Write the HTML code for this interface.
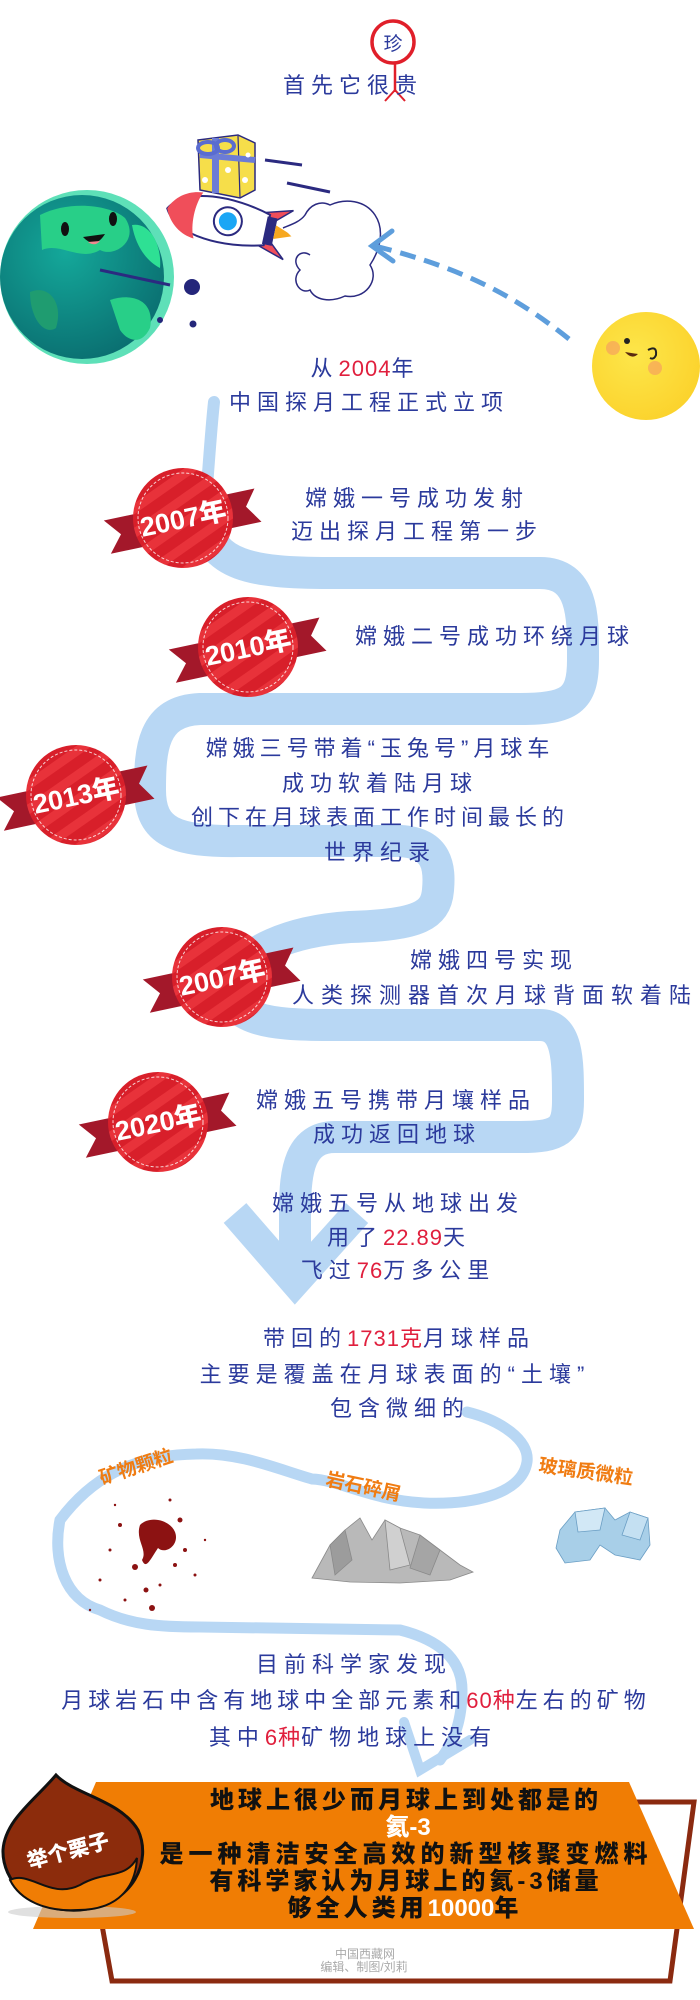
<!DOCTYPE html>
<html><head><meta charset="utf-8"><style>
html,body{margin:0;padding:0;background:#fff;}
svg{display:block;}
.t{font-family:"Liberation Sans","Noto Sans CJK SC",sans-serif;fill:#2b3a9c;font-size:22px;letter-spacing:6px;text-anchor:middle;}
.r{fill:#e01f3d;letter-spacing:1px;}
.o{font-family:"Liberation Sans","Noto Sans CJK SC",sans-serif;fill:#f07c12;font-size:19px;font-weight:bold;text-anchor:middle;}
.b{font-family:"Liberation Sans","Noto Sans CJK SC",sans-serif;fill:#111;font-size:24px;font-weight:900;text-anchor:middle;letter-spacing:4px;}
.w{fill:#fff;letter-spacing:0;}
.yr{font-family:"Liberation Sans","Noto Sans CJK SC",sans-serif;fill:#fff;font-size:27px;font-weight:900;text-anchor:middle;}
</style></head><body>
<svg width="700" height="2000" viewBox="0 0 700 2000" xmlns="http://www.w3.org/2000/svg">
<defs>
<pattern id="st" width="20" height="20" patternUnits="userSpaceOnUse" patternTransform="rotate(-35)">
<rect width="20" height="20" fill="#d81f2a"/><rect width="20" height="9" fill="#e8323a"/></pattern>
<g id="badge">
<polygon points="-78,-14 76,-14 64,2 76,20 -78,20 -64,3" fill="#a3182a" transform="rotate(-12)"/>
<circle r="50" fill="url(#st)"/>
<circle r="45" fill="none" stroke="#fff" stroke-width="1" stroke-dasharray="3 2" opacity="0.8"/>
</g>
<radialGradient id="eg" cx="0.4" cy="0.35" r="0.7"><stop offset="0" stop-color="#14a89a"/><stop offset="1" stop-color="#0a6e70"/></radialGradient>
<radialGradient id="mg" cx="0.4" cy="0.4" r="0.7"><stop offset="0" stop-color="#fde64a"/><stop offset="1" stop-color="#fbd12a"/></radialGradient>
</defs>

<circle cx="393" cy="42" r="21" fill="none" stroke="#e01f2a" stroke-width="3.5"/>
<text x="393" y="50" class="t" style="font-size:19px;letter-spacing:0">珍</text>
<line x1="395" y1="63" x2="395" y2="92" stroke="#e01f2a" stroke-width="2.5"/>
<line x1="395" y1="90" x2="385" y2="101" stroke="#e01f2a" stroke-width="2"/>
<line x1="395" y1="90" x2="405" y2="101" stroke="#e01f2a" stroke-width="2"/>
<text x="353" y="93" class="t">首先它很贵</text>

<circle cx="87" cy="277" r="87" fill="#5ee0b8"/>
<circle cx="82" cy="277" r="82" fill="url(#eg)"/>
<path d="M40,215 C70,200 110,205 125,218 C140,240 115,258 100,250 C80,262 60,242 42,250 Z" fill="#28cf88"/>
<path d="M110,300 C135,292 155,302 150,328 C142,345 128,342 120,330 Z" fill="#28cf88"/>
<path d="M132,225 C150,222 162,245 160,268 C148,262 136,248 132,225 Z" fill="#2ee094"/>
<path d="M30,292 C48,284 64,302 56,328 C44,336 30,318 30,292 Z" fill="#1f9c70"/>
<ellipse cx="65" cy="229" rx="4" ry="7" fill="#111"/>
<ellipse cx="113" cy="219" rx="4" ry="7" fill="#111"/>
<path d="M83,237 Q95,250 105,234 Z" fill="#111"/>
<path d="M88,242 Q95,247 100,241 Z" fill="#f08a90"/>
<line x1="100" y1="270" x2="170" y2="285" stroke="#2b2a80" stroke-width="3"/>
<circle cx="192" cy="287" r="8" fill="#24267a"/>
<circle cx="193" cy="324" r="3.5" fill="#24267a"/>
<circle cx="160" cy="320" r="3" fill="#24267a"/>

<line x1="265" y1="160" x2="302" y2="165" stroke="#2b2a80" stroke-width="3"/>
<line x1="287" y1="183" x2="330" y2="192" stroke="#2b2a80" stroke-width="3"/>
<g transform="rotate(12 222 220)">
<path d="M258,205 L290,196 L270,214 Z" fill="#f04e5a" stroke="#2b2a80" stroke-width="1.5"/>
<path d="M258,236 L290,246 L270,228 Z" fill="#f04e5a" stroke="#2b2a80" stroke-width="1.5"/>
<path d="M166,220 C180,195 230,194 268,205 L268,236 C230,247 180,246 166,220 Z" fill="#fff" stroke="#2b2a80" stroke-width="2"/>
<path d="M166,220 C172,205 185,198 198,197 C192,210 192,232 198,244 C185,243 172,235 166,220 Z" fill="#f04e5a"/>
<rect x="266" y="207" width="10" height="28" fill="#2b2a80"/>
<path d="M276,214 L295,221 L276,228 Z" fill="#f7a820"/>
<circle cx="228" cy="220" r="14" fill="#fff" stroke="#2b2a80" stroke-width="2"/>
<circle cx="228" cy="220" r="9" fill="#1aa6f5"/>
</g>
<polygon points="198,140 238,135 255,143 255,190 240,198 200,190" fill="#f6de4a" stroke="#2b2a80" stroke-width="1.5"/>
<line x1="238" y1="136" x2="240" y2="198" stroke="#2b2a80" stroke-width="1.2"/>
<rect x="212" y="138" width="7" height="55" fill="#6c7cd6"/>
<path d="M200,155 L255,160" stroke="#6c7cd6" stroke-width="6"/>
<ellipse cx="208" cy="148" rx="10" ry="6" fill="none" stroke="#5a6cd0" stroke-width="4"/>
<ellipse cx="225" cy="146" rx="9" ry="6" fill="none" stroke="#5a6cd0" stroke-width="4"/>
<circle cx="228" cy="170" r="3" fill="#fff"/><circle cx="245" cy="180" r="3" fill="#fff"/><circle cx="205" cy="180" r="3" fill="#fff"/><circle cx="248" cy="155" r="2.5" fill="#fff"/>
<path d="M283,228 C290,225 300,222 305,215 C310,205 320,200 330,205 C345,198 365,200 375,215 C385,230 380,250 370,265 C380,280 365,300 345,296 C330,303 315,300 310,290 C300,295 290,280 300,270 C290,260 300,248 310,255" fill="#fff" stroke="#2b2a80" stroke-width="1.5"/>
<path d="M569,339 C520,300 470,270 375,246" fill="none" stroke="#5e9edc" stroke-width="5" stroke-dasharray="16 9"/>
<path d="M392,231 L372,246 L393,261" fill="none" stroke="#5e9edc" stroke-width="5" stroke-linecap="round"/>
<circle cx="646" cy="366" r="54" fill="url(#mg)"/>
<circle cx="613" cy="348" r="7" fill="#f48a6a" opacity="0.5"/>
<circle cx="655" cy="368" r="7" fill="#f48a6a" opacity="0.5"/>
<circle cx="627" cy="341" r="3" fill="#222"/>
<path d="M648,350 Q657,345 656,355 Q654,360 650,358" fill="none" stroke="#222" stroke-width="2"/>
<path d="M625,352 Q632,360 638,354 Z" fill="#5a2a10"/>

<path d="M214,402 C210,440 208,480 204,520" fill="none" stroke="#b8d7f4" stroke-width="12" stroke-linecap="round"/>
<path d="M204,520 C212,565 250,573 330,573 L540,573 C585,573 583,620 583,660 C583,700 570,709 520,709 L200,709 C152,711 150,750 150,790 C150,832 175,842 240,841 L400,841 C438,843 440,868 438,890 C436,915 420,925 350,927 C290,931 245,950 222,985 C235,1020 265,1025 330,1025 L540,1025 C568,1025 568,1060 568,1100 C568,1130 560,1137 520,1137 L335,1137 C300,1137 295,1170 295,1210 L295,1270" fill="none" stroke="#b8d7f4" stroke-width="32"/>
<polyline points="235,1213 295,1282 357,1213" fill="none" stroke="#b8d7f4" stroke-width="30"/>

<g transform="translate(183,518)"><use href="#badge"/><text class="yr" transform="rotate(-12) translate(0,10)">2007年</text></g>
<g transform="translate(248,647)"><use href="#badge"/><text class="yr" transform="rotate(-12) translate(0,10)">2010年</text></g>
<g transform="translate(76,795)"><use href="#badge"/><text class="yr" transform="rotate(-12) translate(0,10)">2013年</text></g>
<g transform="translate(222,977)"><use href="#badge"/><text class="yr" transform="rotate(-12) translate(0,10)">2007年</text></g>
<g transform="translate(158,1122)"><use href="#badge"/><text class="yr" transform="rotate(-12) translate(0,10)">2020年</text></g>

<text x="365" y="376" class="t">从<tspan class="r">2004</tspan>年</text>
<text x="369" y="410" class="t">中国探月工程正式立项</text>
<text x="417" y="506" class="t">嫦娥一号成功发射</text>
<text x="417" y="539" class="t">迈出探月工程第一步</text>
<text x="495" y="644" class="t">嫦娥二号成功环绕月球</text>
<text x="380" y="756" class="t" style="letter-spacing:5px">嫦娥三号带着“玉兔号”月球车</text>
<text x="380" y="791" class="t">成功软着陆月球</text>
<text x="380" y="825" class="t" style="letter-spacing:5px">创下在月球表面工作时间最长的</text>
<text x="380" y="860" class="t">世界纪录</text>
<text x="494" y="968" class="t">嫦娥四号实现</text>
<text x="495" y="1003" class="t" style="letter-spacing:7px">人类探测器首次月球背面软着陆</text>
<text x="396" y="1108" class="t">嫦娥五号携带月壤样品</text>
<text x="397" y="1142" class="t">成功返回地球</text>
<text x="398" y="1211" class="t">嫦娥五号从地球出发</text>
<text x="399" y="1245" class="t">用了<tspan class="r">22.89</tspan>天</text>
<text x="398" y="1278" class="t">飞过<tspan class="r">76</tspan>万多公里</text>
<text x="399" y="1346" class="t">带回的<tspan class="r">1731克</tspan>月球样品</text>
<text x="395" y="1382" class="t">主要是覆盖在月球表面的“土壤”</text>
<text x="400" y="1416" class="t">包含微细的</text>

<path d="M467,1412 C500,1420 530,1440 527,1462 C522,1495 470,1505 424,1503 C370,1500 340,1480 312,1479 C280,1470 240,1452 196,1454 C130,1455 90,1480 60,1520 C52,1560 65,1600 100,1610 C130,1625 160,1627 200,1627 L400,1630 C440,1640 462,1660 462,1690 C462,1720 455,1740 440,1760" fill="none" stroke="#b8d7f4" stroke-width="11" stroke-linecap="round"/>
<polyline points="404,1722 420,1770 470,1740" fill="none" stroke="#b8d7f4" stroke-width="10" stroke-linecap="round"/>

<text class="o" transform="translate(138,1473) rotate(-18)">矿物颗粒</text>
<text class="o" transform="translate(362,1493) rotate(12)">岩石碎屑</text>
<text class="o" transform="translate(585,1478) rotate(8)">玻璃质微粒</text>

<g fill="#8c1212">
<path d="M140,1525 C150,1515 170,1520 175,1532 C180,1545 165,1555 158,1548 C150,1560 146,1570 142,1560 C148,1550 135,1540 140,1525 Z"/>
<circle cx="135" cy="1567" r="3"/><circle cx="146" cy="1590" r="2.5"/><circle cx="152" cy="1608" r="3"/><circle cx="120" cy="1525" r="2"/><circle cx="180" cy="1520" r="2.5"/><circle cx="185" cy="1550" r="2"/><circle cx="110" cy="1550" r="1.5"/><circle cx="100" cy="1580" r="1.5"/><circle cx="195" cy="1575" r="1.5"/><circle cx="170" cy="1500" r="1.5"/><circle cx="125" cy="1600" r="1.5"/><circle cx="90" cy="1610" r="1.2"/><circle cx="205" cy="1540" r="1.2"/><circle cx="160" cy="1585" r="1.5"/><circle cx="115" cy="1505" r="1.2"/><circle cx="175" cy="1565" r="2"/>
</g>
<g stroke="#8a8a8a" stroke-width="0.8">
<polygon points="312,1578 330,1545 345,1530 360,1518 372,1540 385,1520 400,1528 420,1535 440,1550 460,1565 473,1572 450,1580 400,1583 350,1582" fill="#b9b9b9"/>
<polygon points="330,1545 345,1530 352,1560 335,1575" fill="#9c9c9c"/>
<polygon points="385,1520 400,1528 410,1565 390,1570" fill="#d0d0d0"/>
<polygon points="420,1535 440,1550 430,1575 410,1568" fill="#a5a5a5"/>
</g>
<g stroke="#6a9ec4" stroke-width="0.8">
<polygon points="560,1530 575,1512 605,1508 615,1520 630,1512 648,1518 650,1545 640,1560 615,1555 600,1545 590,1560 565,1563 556,1548" fill="#a8cfe8"/>
<polygon points="575,1512 605,1508 600,1530 578,1532" fill="#d2e8f6"/>
<polygon points="630,1512 648,1518 640,1540 622,1535" fill="#c4e0f2"/>
</g>

<text x="354" y="1672" class="t">目前科学家发现</text>
<text x="356" y="1708" class="t" style="letter-spacing:5px">月球岩石中含有地球中全部元素和<tspan class="r">60种</tspan>左右的矿物</text>
<text x="353" y="1745" class="t">其中<tspan class="r">6种</tspan>矿物地球上没有</text>

<polygon points="80,1802 694,1802 670,1981 112,1981" fill="none" stroke="#8b2a10" stroke-width="5"/>
<polygon points="96,1782 629,1782 694,1929 33,1929" fill="#f07d04"/>
<text x="406" y="1808" class="b">地球上很少而月球上到处都是的</text>
<text x="408" y="1835" class="b w">氦-3</text>
<text x="406" y="1862" class="b" style="letter-spacing:5px">是一种清洁安全高效的新型核聚变燃料</text>
<text x="406" y="1889" class="b">有科学家认为月球上的氦-3储量</text>
<text x="405" y="1916" class="b">够全人类用<tspan class="w">10000</tspan>年</text>
<ellipse cx="72" cy="1912" rx="64" ry="6" fill="#ccc" opacity="0.6"/>
<path d="M56,1775 C75,1795 120,1800 138,1830 C152,1860 135,1905 80,1910 C30,1913 2,1880 3,1850 C5,1820 35,1800 56,1775 Z" fill="#8c2c0c" stroke="#111" stroke-width="3"/>
<path d="M10,1880 C30,1870 50,1900 80,1885 C105,1870 125,1880 137,1858 C135,1895 110,1910 78,1910 C45,1912 20,1900 10,1880 Z" fill="#f07d04" stroke="#111" stroke-width="2"/>
<text transform="translate(70,1858) rotate(-15)" style="font-family:'Liberation Sans','Noto Sans CJK SC',sans-serif;font-size:21px;font-weight:900;fill:#fff;text-anchor:middle">举个栗子</text>
<text x="365" y="1958" style="font-family:'Liberation Sans','Noto Sans CJK SC',sans-serif;font-size:12px;fill:#aaa;text-anchor:middle">中国西藏网</text>
<text x="364" y="1971" style="font-family:'Liberation Sans','Noto Sans CJK SC',sans-serif;font-size:12px;fill:#aaa;text-anchor:middle">编辑、制图/刘莉</text>
</svg>
</body></html>
